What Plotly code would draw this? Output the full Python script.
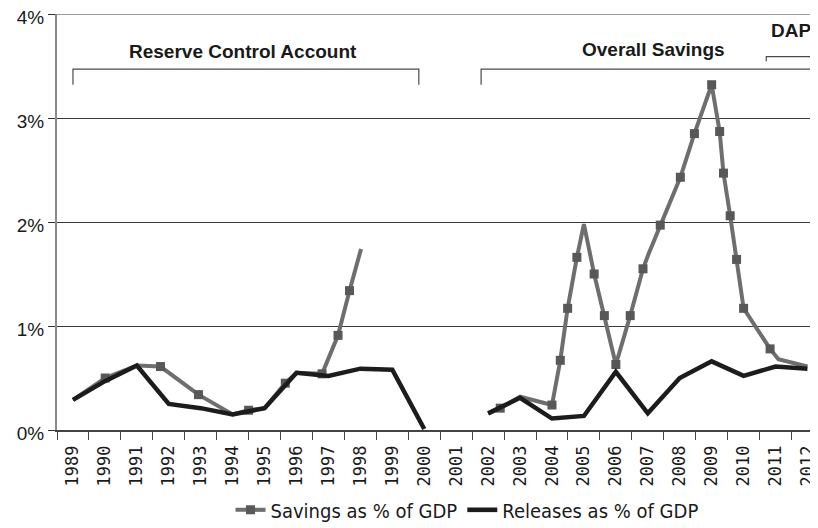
import plotly.graph_objects as go

# ---------------- data ----------------
years = list(range(1989, 2013))
year_labels = [str(y) for y in years]

# Releases as % of GDP (yearly)
rel_x = [1989, 1990, 1991, 1992, 1993, 1994, 1995, 1996, 1997, 1998, 1999, 2000,
         2001,
         2002, 2003, 2004, 2005, 2006, 2007, 2008, 2009, 2010, 2011, 2012]
rel_y = [0.29, 0.47, 0.62, 0.25, 0.21, 0.15, 0.21, 0.55, 0.52, 0.59, 0.58, 0.01,
         None,
         0.16, 0.31, 0.11, 0.135, 0.56, 0.16, 0.50, 0.66, 0.52, 0.61, 0.59]

# Savings as % of GDP (path points)
sav_x = [1989.0, 1990.01, 1991.0, 1991.74, 1992.93, 1994.0, 1994.5, 1995.0, 1995.65,
         1996.0, 1996.8, 1997.3, 1997.66, 1998.02,
         None,
         2002.0, 2002.38, 2003.0, 2004.0, 2004.26, 2004.49, 2004.78, 2005.0, 2005.32,
         2005.64, 2006.0, 2006.45, 2006.85, 2007.02, 2007.39, 2008.02, 2008.46,
         2009.0, 2009.25, 2009.37, 2009.58, 2009.78, 2010.0, 2010.83, 2011.09, 2012.0]
sav_y = [0.29, 0.50, 0.62, 0.61, 0.34, 0.15, 0.19, 0.21, 0.45,
         0.55, 0.54, 0.91, 1.34, 1.74,
         None,
         0.16, 0.21, 0.32, 0.24, 0.67, 1.17, 1.66, 1.98, 1.50,
         1.10, 0.63, 1.10, 1.55, 1.69, 1.97, 2.43, 2.85,
         3.32, 2.87, 2.47, 2.06, 1.64, 1.17, 0.78, 0.68, 0.61]
# which path points carry a square marker
sav_marked = [0, 1, 0, 1, 1, 0, 1, 0, 1,
              0, 1, 1, 1, 0,
              0,
              0, 1, 0, 1, 1, 1, 1, 0, 1,
              1, 1, 1, 1, 0, 1, 1, 1,
              1, 1, 1, 1, 1, 1, 1, 0, 0]

# y axis ticks
y_ticks = [0, 1, 2, 3, 4]
y_tick_labels = ["0%", "1%", "2%", "3%", "4%"]

# program periods (bracket annotations)
periods = ["Reserve Control Account", "Overall Savings", "DAP"]
period_start = [1989.0, 2001.78, 2010.71]
period_end = [1999.83, 2012.26, 2012.26]

# ---------------- figure ----------------
GRAY_LINE = "#6e6e6e"
GRAY_MARK = "#585858"
BLACK = "#1c1c1c"

mx = [x for x, m in zip(sav_x, sav_marked) if m]
my = [y for y, m in zip(sav_y, sav_marked) if m]

fig = go.Figure()
# legend entries
fig.add_trace(go.Scatter(x=[None], y=[None], mode="lines+markers", name="Savings as % of GDP",
                         line=dict(color=GRAY_LINE, width=4),
                         marker=dict(symbol="square", size=9, color=GRAY_MARK), legendrank=1))
fig.add_trace(go.Scatter(x=[None], y=[None], mode="lines", name="Releases as % of GDP",
                         line=dict(color=BLACK, width=4.5), legendrank=2))
# savings line
fig.add_trace(go.Scatter(x=sav_x, y=sav_y, mode="lines", showlegend=False,
                         line=dict(color=GRAY_LINE, width=4), connectgaps=False, hoverinfo="skip"))
fig.add_trace(go.Scatter(x=mx, y=my, mode="markers", showlegend=False,
                         marker=dict(symbol="square", size=9, color=GRAY_MARK)))
# releases line on top
fig.add_trace(go.Scatter(x=rel_x, y=rel_y, mode="lines", showlegend=False,
                         line=dict(color=BLACK, width=4.5), connectgaps=False))

# top grid line (edge of the plotting range)
fig.add_shape(type="line", xref="paper", yref="y", x0=0, x1=1, y0=y_ticks[-1], y1=y_ticks[-1],
              line=dict(color="#3a3a3a", width=1.2), layer="below")

# brackets
bracket_drop = [0.15, 0.15, 0.045]
bracket_top = [3.47, 3.47, 3.59]
for s, e, t, d in zip(period_start, period_end, bracket_top, bracket_drop):
    fig.add_shape(type="path", xref="x", yref="y",
                  path=f"M {s},{t-d} L {s},{t} L {e},{t} L {e},{t-d}",
                  line=dict(color="#4a4a4a", width=1.2))

label_x = [1994.32, 2007.18, 2011.5]
label_y = [3.64, 3.66, 3.84]
for txt, lx, ly in zip(periods, label_x, label_y):
    fig.add_annotation(x=lx, y=ly, xref="x", yref="y", text=f"<b>{txt}</b>", showarrow=False,
                       font=dict(family="Liberation Sans, Arial, sans-serif", size=19, color="#1a1a1a"),
                       xanchor="center", yanchor="middle")

# the page body keeps an 8px default margin, so the figure is sized to fit the window
fig.update_layout(
    width=810, height=520,
    margin=dict(l=49, r=0, t=6, b=98, autoexpand=False),
    paper_bgcolor="white", plot_bgcolor="white",
    showlegend=True,
    legend=dict(orientation="h", x=0.228, xanchor="left", y=-0.192, yanchor="middle",
                font=dict(family="Liberation Sans Narrow, DejaVu Sans Condensed, sans-serif",
                          size=20, color="#1a1a1a"),
                itemwidth=30, tracegroupgap=0, bgcolor="rgba(0,0,0,0)"),
    xaxis=dict(range=[1988.5, 2012.33], tickmode="array", tickvals=years, ticktext=year_labels,
               tickangle=-90, ticks="outside", ticklen=7, tickcolor="rgba(0,0,0,0)",
               tickfont=dict(family="DejaVu Sans Mono, monospace", size=17, color="#1a1a1a"),
               showgrid=False, zeroline=False, showline=True, linecolor="#444", linewidth=1.5,
               automargin=False, ticklabeloverflow="allow",
               minor=dict(tickvals=[y - 0.5 for y in years], ticks="outside", ticklen=8,
                          tickcolor="#444", tickwidth=1.3, showgrid=False)),
    yaxis=dict(range=[0, 4], tickmode="array", tickvals=y_ticks, ticktext=y_tick_labels,
               ticks="outside", ticklen=7, tickcolor="#333", tickwidth=1.3,
               tickfont=dict(family="Liberation Sans, Arial, sans-serif", size=19, color="#1a1a1a"),
               showgrid=True, gridcolor="#3a3a3a", gridwidth=1.2, zeroline=False,
               showline=True, linecolor="#8a8a8a", linewidth=2, automargin=False,
               ticklabeloverflow="allow", ticklabelshift=3),
)

fig.write_html("out.html")
